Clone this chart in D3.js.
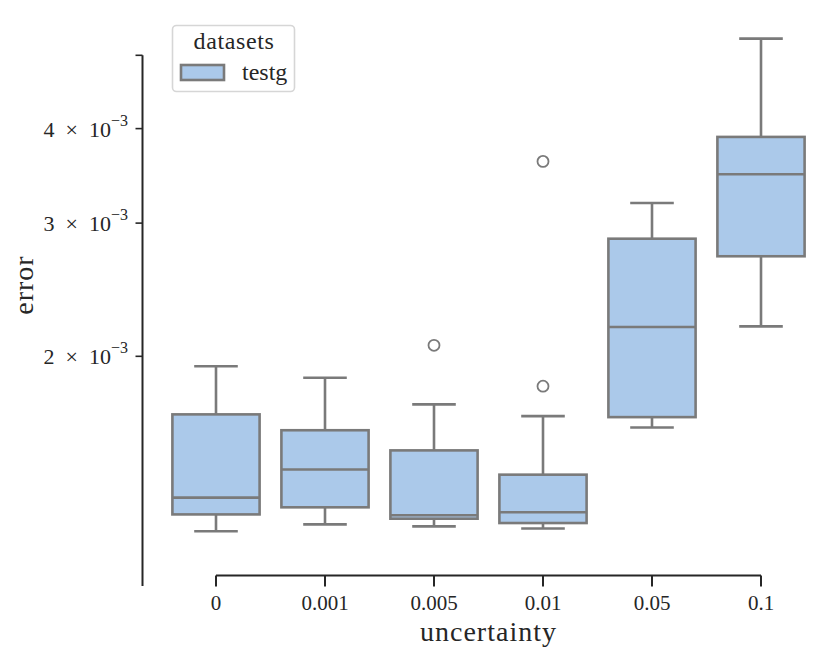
<!DOCTYPE html>
<html lang="en">

<head>
    <meta charset="UTF-8">
    <title>error vs uncertainty</title>
    <script src="https://d3js.org/d3.v7.min.js"></script>
    <style>
        body {
            margin: 0;
            background: #ffffff;
        }

        .chart text {
            font-family: "Liberation Serif", "DejaVu Serif", serif;
            fill: #262626;
        }

        .tick-label {
            font-size: 21px;
        }

        .ytick-label {
            font-size: 22px;
        }

        .axis-label {
            font-size: 28px;
            letter-spacing: 1px;
        }

        .legend-text {
            font-size: 24px;
        }
    </style>
</head>

<body>
    <svg class="chart" width="830" height="661"></svg>

    <script>
        // values
        const categories = ["0", "0.001", "0.005", "0.01", "0.05", "0.1"];
        const whiskerLow = [1.174e-3, 1.199e-3, 1.192e-3, 1.184e-3, 1.610e-3, 2.191e-3];
        const q1 = [1.236e-3, 1.263e-3, 1.220e-3, 1.204e-3, 1.662e-3, 2.712e-3];
        const median = [1.301e-3, 1.417e-3, 1.233e-3, 1.244e-3, 2.187e-3, 3.481e-3];
        const q3 = [1.676e-3, 1.597e-3, 1.502e-3, 1.395e-3, 2.861e-3, 3.900e-3];
        const whiskerHigh = [1.940e-3, 1.874e-3, 1.728e-3, 1.667e-3, 3.189e-3, 5.261e-3];
        const outliers = [[], [], [2.068e-3], [1.826e-3, 3.620e-3], [], []];

        const yTicks = [2e-3, 3e-3, 4e-3, 5e-3];
        const yTickMantissa = ["2", "3", "4", ""];
        const yLimits = [0.994e-3, 5e-3];

        const boxFill = "#abc9ea";
        const lineColor = "#7a7a7a";
        const axisColor = "#262626";

        const svg = d3.select(".chart");

        const x = d3.scalePoint()
            .domain(categories)
            .range([216, 761]);

        const step = x.step();
        const boxWidth = step * 0.8;

        const y = d3.scaleLog()
            .domain(yLimits)
            .range([586, 55.3]);

        const data = categories.map((c, i) => ({
            cat: c,
            lo: whiskerLow[i],
            q1: q1[i],
            med: median[i],
            q3: q3[i],
            hi: whiskerHigh[i],
            out: outliers[i]
        }));

        // y spine (trimmed, offset)
        const yAxisX = 142.5;
        svg.append("line")
            .attr("x1", yAxisX).attr("x2", yAxisX)
            .attr("y1", y.range()[0]).attr("y2", y.range()[1])
            .attr("stroke", axisColor)
            .attr("stroke-width", 2);

        const yTick = svg.selectAll(".ytick")
            .data(yTicks)
            .enter()
            .append("g")
            .attr("class", "ytick")
            .attr("transform", d => `translate(0,${y(d)})`);

        yTick.append("line")
            .attr("x1", yAxisX - 7).attr("x2", yAxisX)
            .attr("stroke", axisColor)
            .attr("stroke-width", 1.6);

        const yLabel = yTick.filter((d, i) => yTickMantissa[i] !== "")
            .append("text")
            .attr("class", "ytick-label")
            .attr("x", 128)
            .attr("y", 8)
            .attr("text-anchor", "end");

        yLabel.append("tspan")
            .text(d => `${yTickMantissa[yTicks.indexOf(d)]}\u2002\u00d7\u200210`);
        yLabel.append("tspan")
            .attr("dy", -11)
            .style("font-size", "16px")
            .text("\u22123");

        // x spine
        const xAxisY = 575.5;
        svg.append("line")
            .attr("x1", x(categories[0])).attr("x2", x(categories[categories.length - 1]))
            .attr("y1", xAxisY).attr("y2", xAxisY)
            .attr("stroke", axisColor)
            .attr("stroke-width", 2);

        const xTick = svg.selectAll(".xtick")
            .data(categories)
            .enter()
            .append("g")
            .attr("class", "xtick")
            .attr("transform", d => `translate(${x(d)},0)`);

        xTick.append("line")
            .attr("y1", xAxisY).attr("y2", xAxisY + 11)
            .attr("stroke", axisColor)
            .attr("stroke-width", 2);

        xTick.append("text")
            .attr("class", "tick-label")
            .attr("y", 610)
            .attr("text-anchor", "middle")
            .text(d => d);

        // boxes
        const boxes = svg.selectAll(".box")
            .data(data)
            .enter()
            .append("g")
            .attr("class", "box")
            .attr("transform", d => `translate(${x(d.cat)},0)`);

        boxes.append("line")
            .attr("y1", d => y(d.q3)).attr("y2", d => y(d.hi))
            .attr("stroke", lineColor).attr("stroke-width", 2.6);

        boxes.append("line")
            .attr("y1", d => y(d.q1)).attr("y2", d => y(d.lo))
            .attr("stroke", lineColor).attr("stroke-width", 2.6);

        boxes.append("line")
            .attr("x1", -boxWidth / 4).attr("x2", boxWidth / 4)
            .attr("y1", d => y(d.hi)).attr("y2", d => y(d.hi))
            .attr("stroke", lineColor).attr("stroke-width", 2.6);

        boxes.append("line")
            .attr("x1", -boxWidth / 4).attr("x2", boxWidth / 4)
            .attr("y1", d => y(d.lo)).attr("y2", d => y(d.lo))
            .attr("stroke", lineColor).attr("stroke-width", 2.6);

        boxes.append("rect")
            .attr("x", -boxWidth / 2)
            .attr("width", boxWidth)
            .attr("y", d => y(d.q3))
            .attr("height", d => y(d.q1) - y(d.q3))
            .attr("fill", boxFill)
            .attr("stroke", lineColor)
            .attr("stroke-width", 2.6);

        boxes.append("line")
            .attr("x1", -boxWidth / 2).attr("x2", boxWidth / 2)
            .attr("y1", d => y(d.med)).attr("y2", d => y(d.med))
            .attr("stroke", lineColor).attr("stroke-width", 2.6);

        boxes.selectAll(".flier")
            .data(d => d.out)
            .enter()
            .append("circle")
            .attr("class", "flier")
            .attr("cy", d => y(d))
            .attr("r", 5.5)
            .attr("fill", "none")
            .attr("stroke", lineColor)
            .attr("stroke-width", 1.8);

        // axis labels
        svg.append("text")
            .attr("class", "axis-label")
            .attr("x", (x.range()[0] + x.range()[1]) / 2)
            .attr("y", 641)
            .attr("text-anchor", "middle")
            .text("uncertainty");

        svg.append("text")
            .attr("class", "axis-label")
            .attr("transform", "translate(33,285) rotate(-90)")
            .attr("text-anchor", "middle")
            .text("error");

        // legend
        const legend = svg.append("g").attr("class", "legend");

        legend.append("rect")
            .attr("x", 172.5).attr("y", 25.5)
            .attr("width", 122).attr("height", 66)
            .attr("rx", 4)
            .attr("fill", "#ffffff")
            .attr("stroke", "#d6d6d6")
            .attr("stroke-width", 1.6);

        legend.append("text")
            .attr("class", "legend-text")
            .attr("x", 234)
            .attr("y", 49)
            .attr("text-anchor", "middle")
            .style("letter-spacing", "0.6px")
            .text("datasets");

        legend.append("rect")
            .attr("x", 181).attr("y", 65)
            .attr("width", 43).attr("height", 15)
            .attr("fill", boxFill)
            .attr("stroke", lineColor)
            .attr("stroke-width", 2.6);

        legend.append("text")
            .attr("class", "legend-text")
            .attr("x", 242)
            .attr("y", 80)
            .text("testg");
    </script>
</body>

</html>
